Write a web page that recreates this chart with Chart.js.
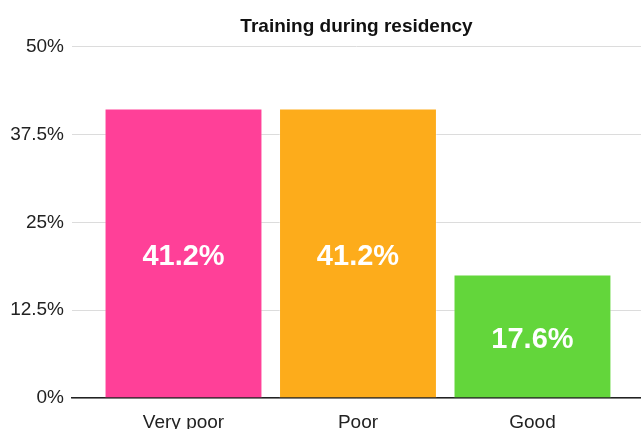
<!DOCTYPE html>
<html>
<head>
<meta charset="utf-8">
<script src="https://cdn.jsdelivr.net/npm/chart.js@4"></script>
<style>
  html, body { margin: 0; padding: 0; background: #fff; }
  #wrap { width: 641px; height: 429px; position: relative; }
</style>
</head>
<body>
<div id="wrap"><canvas id="bar-chart"></canvas></div>
<script>
// Chart data
const categories = ["Very poor", "Poor", "Good"];
const shares = [41.2, 41.2, 17.6];
const barColors = ["#FF4098", "#FDAC1B", "#63D63B"];
const yTicks = [0, 12.5, 25, 37.5, 50];

const font = "'Liberation Sans', Arial, Helvetica, sans-serif";

// draws the value in the middle of each bar
const barLabels = {
  id: "barLabels",
  afterDatasetsDraw(chart) {
    const ctx = chart.ctx;
    const meta = chart.getDatasetMeta(0);
    ctx.save();
    ctx.fillStyle = "#fff";
    ctx.font = "bold 29px " + font;
    ctx.textAlign = "center";
    ctx.textBaseline = "middle";
    meta.data.forEach((bar, i) => {
      const mid = (bar.y + bar.base) / 2;
      ctx.fillText(shares[i].toFixed(1) + "%", bar.x, mid + 4);
    });
    ctx.restore();
  },
};

const ctx = document.getElementById("bar-chart");

new Chart(ctx, {
  type: "bar",
  data: {
    datasets: [
      {
        data: shares.map((v, i) => ({ x: i, y: v })),
        backgroundColor: barColors,
        borderColor: "rgba(255,255,255,0.35)",
        borderWidth: 1,
        categoryPercentage: 1,
        barPercentage: 0.905,
      },
    ],
  },
  options: {
    responsive: true,
    maintainAspectRatio: false,
    animation: false,
    layout: { padding: { left: 0, right: 0, top: 0, bottom: 0 } },
    plugins: {
      legend: { display: false },
      tooltip: { enabled: false },
      title: {
        display: true,
        text: "Training during residency",
        fullSize: false,
        color: "#111",
        font: { family: font, size: 19, weight: "bold" },
        padding: { top: 15, bottom: 9 },
      },
    },
    scales: {
      x: {
        type: "linear",
        offset: false,
        min: -0.639,
        max: 2.622,
        grid: { display: false, offset: false },
        border: { display: true, color: "#222", width: 1.5 },
        afterBuildTicks: (axis) => {
          axis.ticks = categories.map((c, i) => ({ value: i }));
        },
        afterFit: (axis) => {
          axis.height = 31;
        },
        ticks: {
          color: "#222",
          padding: 5,
          maxRotation: 0,
          font: { family: font, size: 19 },
          callback: (value) => categories[value],
        },
      },
      y: {
        min: 0,
        max: 50,
        grid: { color: "#dcdcdc", lineWidth: 1, drawTicks: false },
        border: { display: false },
        afterBuildTicks: (axis) => {
          axis.ticks = yTicks.map((v) => ({ value: v }));
        },
        afterFit: (axis) => {
          axis.width = 72;
        },
        ticks: {
          color: "#222",
          padding: 8,
          font: { family: font, size: 19 },
          callback: (value) => value + "%",
        },
      },
    },
  },
  plugins: [barLabels],
});
</script>
</body>
</html>
